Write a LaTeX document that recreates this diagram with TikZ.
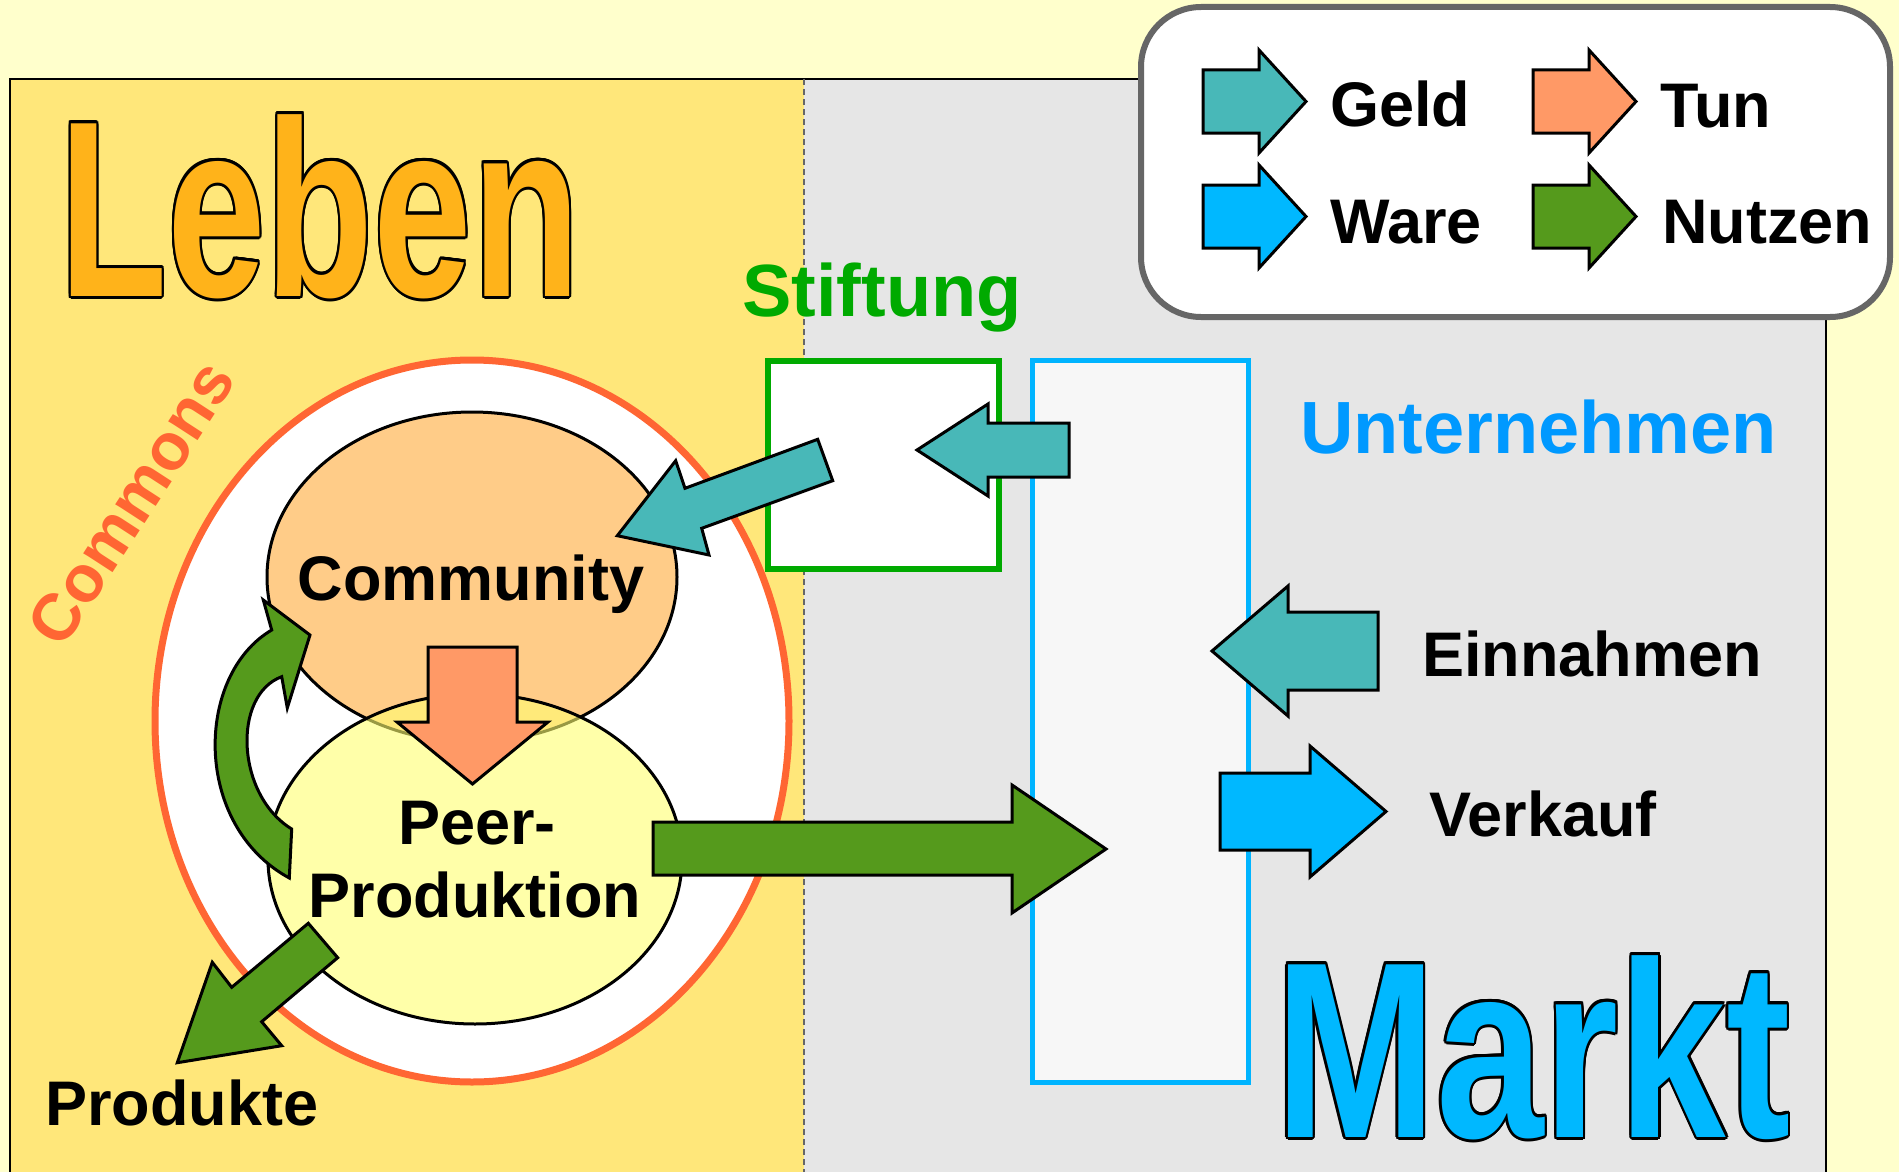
\documentclass[tikz,border=0pt]{standalone}
\usepackage{fontspec}
\setmainfont{Liberation Sans}
\usepackage{contour}
\contourlength{3pt}
\definecolor{bgyellow}{RGB}{255,255,204}
\definecolor{lebenbg}{RGB}{255,231,122}
\definecolor{marktbg}{RGB}{230,230,230}
\definecolor{lebentxt}{RGB}{255,179,26}
\definecolor{markttxt}{RGB}{0,184,255}
\definecolor{geldcol}{RGB}{72,184,184}
\definecolor{tuncol}{RGB}{255,153,102}
\definecolor{warecol}{RGB}{0,184,255}
\definecolor{nutzencol}{RGB}{85,154,28}
\definecolor{commonscol}{RGB}{255,102,51}
\definecolor{communitycol}{RGB}{255,204,136}
\definecolor{peercol}{RGB}{255,255,113}
\definecolor{stiftcol}{RGB}{0,170,0}
\definecolor{untertxt}{RGB}{0,153,255}
\definecolor{unterbox}{RGB}{0,180,255}
\usetikzlibrary{positioning}
\tikzset{
  blockarrow/.style={draw=black, line width=3pt, line join=miter},
  lbl/.style={font=\fontsize{63}{70}\selectfont\bfseries, inner sep=0pt},
  bigword/.style={font=\fontsize{251}{260}\selectfont\bfseries, inner sep=0pt, anchor=base west}
}
\begin{document}
\begin{tikzpicture}[x=1pt,y=-1pt]
    % page and the two fields
    \useasboundingbox (0,0) rectangle (1899,1172);
    \fill[bgyellow] (0,0) rectangle (1899,1172);
    \fill[lebenbg] (10,79) rectangle (804,1180);
    \fill[marktbg] (804,79) rectangle (1826,1180);
    \draw[line width=2.5pt] (10,1180) -- (10,79) -- (1826,79) -- (1826,1180);
    \draw[dashed, line width=1.5pt, black!60, dash pattern=on 6pt off 4pt] (804,79) -- (804,1172);

    % big outlined words
    \node[bigword, xscale=0.705, text=lebentxt] (leben) at (59,296) {\contour{black}{Leben}};
    \node[bigword, xscale=0.77, text=markttxt] (markt) at (1275,1137) {\contour{black}{Markt}};

    % legend
    \draw[line width=6pt, draw=black!60, fill=white, rounded corners=60pt] (1141,7) rectangle (1890,317);
    \foreach \dx/\dy/\col in {0/0/geldcol, 330/0/tuncol, 0/115/warecol, 330/115/nutzencol}{
      \begin{scope}[shift={(\dx,\dy)}]
        \filldraw[blockarrow, fill=\col] (1203,70) -- (1259,70) -- (1259,50) -- (1306,101.5)
          -- (1259,153) -- (1259,133) -- (1203,133) -- cycle;
      \end{scope}
    }
    \node[lbl, anchor=base west] (geld) at (1330,126) {Geld};
    \node[lbl, anchor=base west] (tun) at (1660,127) {Tun};
    \node[lbl, anchor=base west] (ware) at (1330,243) {Ware};
    \node[lbl, anchor=base west] (nutzen) at (1662,243) {Nutzen};

    % Stiftung and Unternehmen
    \node[lbl, anchor=base west, text=stiftcol, font=\fontsize{74}{80}\selectfont\bfseries] (stiftung) at (742,316) {Stiftung};
    \filldraw[line width=6pt, draw=stiftcol, fill=white] (768,361) rectangle (999,569);
    \filldraw[line width=5pt, draw=unterbox, fill=black!3] (1032,360) rectangle (1248,1082);
    \node[lbl, anchor=base west, text=untertxt, font=\fontsize{74}{80}\selectfont\bfseries] (unternehmen) at (1300,453) {Unternehmen};
    \node[lbl, anchor=base west] (einnahmen) at (1422,676) {Einnahmen};
    \node[lbl, anchor=base west] (verkauf) at (1429,836) {Verkauf};

    % commons
    \filldraw[line width=7pt, draw=commonscol, fill=white] (472,721) ellipse [x radius=317, y radius=361];
    \node[lbl, text=commonscol, font=\fontsize{66}{70}\selectfont\bfseries, rotate=57] (commons) at (131,503) {Commons};
    \filldraw[line width=3pt, fill=communitycol] (472,577) ellipse [x radius=205, y radius=165];
    \filldraw[line width=3pt, fill=peercol, fill opacity=0.6] (475,859) ellipse [x radius=207, y radius=165];
    \node[lbl, anchor=base] (community) at (471,600) {Community};
    \node[lbl, anchor=base] (peer) at (477,844) {Peer-};
    \node[lbl, anchor=base] (produktion) at (475,917) {Produktion};
    \node[lbl, anchor=base west] (produkte) at (45,1125) {Produkte};

    % arrows
    \filldraw[blockarrow, fill=nutzencol] (263.3,600) -- (310,635) -- (287.3,708) -- (281.7,676.7)
      .. controls (232,695) and (236,795) .. (291.7,829) -- (289.3,878)
      .. controls (192,825) and (195,675) .. (271.7,630) -- cycle;
    \filldraw[blockarrow, fill=tuncol] (428,647) -- (517,647) -- (517,722) -- (548,722) -- (472.5,784)
      -- (397,722) -- (428,722) -- cycle;
    \filldraw[blockarrow, fill=nutzencol] (308.3,923.3) -- (231.7,987.3) -- (212.3,962.3) -- (177.3,1062.7)
      -- (281.7,1045.7) -- (261.7,1021.7) -- (337.7,957.7) -- cycle;
    \filldraw[blockarrow, fill=nutzencol] (653,822) -- (1012,822) -- (1012,785) -- (1106,849)
      -- (1012,913) -- (1012,875) -- (653,875) -- cycle;
    \filldraw[blockarrow, fill=geldcol] (817.7,439.3) -- (685,488.3) -- (675.7,460.7) -- (617.3,535.7)
      -- (709,555) -- (701.7,528.3) -- (832.7,480.7) -- cycle;
    \filldraw[blockarrow, fill=geldcol] (1069,423) -- (988,423) -- (988,404) -- (917,450)
      -- (988,496) -- (988,477) -- (1069,477) -- cycle;
    \filldraw[blockarrow, fill=geldcol] (1378,612) -- (1288,612) -- (1288,586) -- (1212,651)
      -- (1288,716) -- (1288,690) -- (1378,690) -- cycle;
    \filldraw[blockarrow, fill=warecol] (1220,773) -- (1310,773) -- (1310,746) -- (1386,811.5)
      -- (1310,877) -- (1310,850) -- (1220,850) -- cycle;
\end{tikzpicture}
\end{document}
